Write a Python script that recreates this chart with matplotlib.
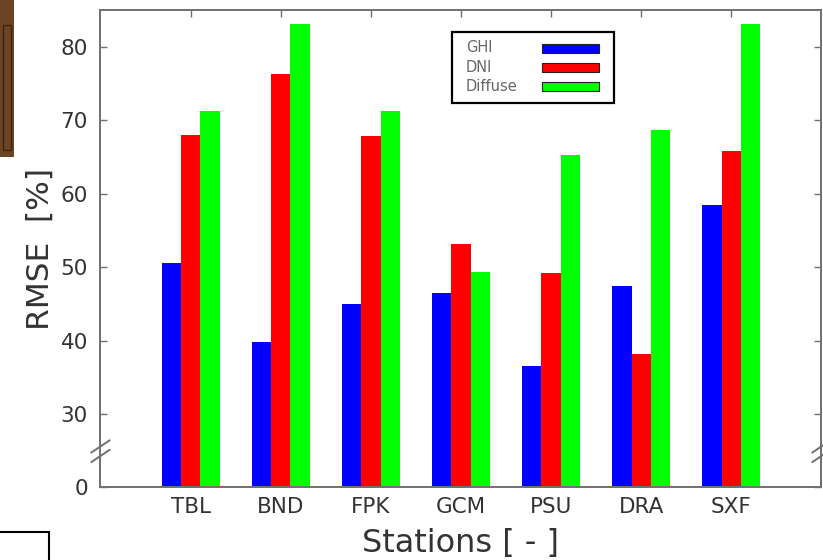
import matplotlib
matplotlib.use("Agg")
import matplotlib.pyplot as plt
import numpy as np
from matplotlib.patches import Rectangle

stations = ["TBL", "BND", "FPK", "GCM", "PSU", "DRA", "SXF"]
series = ["GHI", "DNI", "Diffuse"]
colors = ["#0000ff", "#ff0000", "#00ff00"]

ghi = [50.6, 39.8, 45.0, 46.5, 36.5, 47.4, 58.4]
dni = [68.0, 76.3, 67.8, 53.1, 49.2, 38.2, 65.8]
diffuse = [71.3, 83.1, 71.2, 49.3, 65.3, 68.6, 83.1]

ytick_labels = [0, 30, 40, 50, 60, 70, 80]

# broken axis: everything above the break is shifted down by this much
BREAK_SHIFT = 20


def shift(v):
    v = np.asarray(v, dtype=float)
    return np.where(v > 0, v - BREAK_SHIFT, 0.0)


fig = plt.figure(figsize=(8.23, 5.6), dpi=100)
ax = fig.add_axes([0.1221, 0.1295, 0.8760, 0.8526])

x = np.arange(1, len(stations) + 1)
w = 0.215
for i, (vals, c) in enumerate(zip([ghi, dni, diffuse], colors)):
    ax.bar(x + (i - 1) * w, shift(vals), width=w, color=c, edgecolor="none", zorder=2)

ax.set_xlim(0, 8)
ax.set_ylim(0, 85 - BREAK_SHIFT)
ax.set_xticks(x)
ax.set_xticklabels(stations)
ax.set_yticks(shift(ytick_labels))
ax.set_yticklabels([str(t) for t in ytick_labels])

for s in ax.spines.values():
    s.set_color("#707070")
    s.set_linewidth(1.4)
ax.tick_params(direction="in", length=5, width=1, color="#707070",
               top=True, right=True, labelsize=15.5, labelcolor="#333333")
ax.tick_params(axis="y", pad=9)
ax.tick_params(axis="x", pad=7)

ax.set_xlabel("Stations [ - ]", fontsize=23, color="#333333", labelpad=8)
ax.set_ylabel("RMSE  [%]", fontsize=22.5, color="#333333", labelpad=4)

# break marks on both vertical spines
for xa in (0, 1):
    for yc in (0.066, 0.086):
        ax.plot([xa - 0.0125, xa + 0.0125], [yc - 0.0126, yc + 0.0126],
                transform=ax.transAxes, color="#707070", lw=1.4, clip_on=False, zorder=5)

# legend drawn by hand (text left, swatch right, like the original)
W, H = 823.0, 560.0
fig.patches.append(Rectangle((452 / W, 1 - 103 / H), 162 / W, 71 / H, transform=fig.transFigure,
                             facecolor="white", edgecolor="black", lw=1.6, zorder=10))
for k, (name, c) in enumerate(zip(series, colors)):
    yc = 48 + k * 19.3
    fig.text(466 / W, 1 - yc / H, name, fontsize=10.5, color="#666666", va="center", ha="left", zorder=11)
    fig.patches.append(Rectangle((542 / W, 1 - (yc + 4.5) / H), 57 / W, 9 / H, transform=fig.transFigure,
                                 facecolor=c, edgecolor="#222222", lw=0.8, zorder=11))

# leftovers of the surrounding page at the left edge
fig.patches.append(Rectangle((0, 1 - 157 / H), 14 / W, 157 / H, transform=fig.transFigure,
                             facecolor="#6b4423", edgecolor="none"))
fig.patches.append(Rectangle((3 / W, 1 - 150 / H), 8 / W, 125 / H, transform=fig.transFigure,
                             facecolor="none", edgecolor="#3d2410", lw=1))
fig.patches.append(Rectangle((-0.01, -0.01), 0.01 + 49 / W, 0.01 + 28 / H, transform=fig.transFigure,
                             facecolor="white", edgecolor="black", lw=1.5))

fig.savefig("out.png", dpi=100)
